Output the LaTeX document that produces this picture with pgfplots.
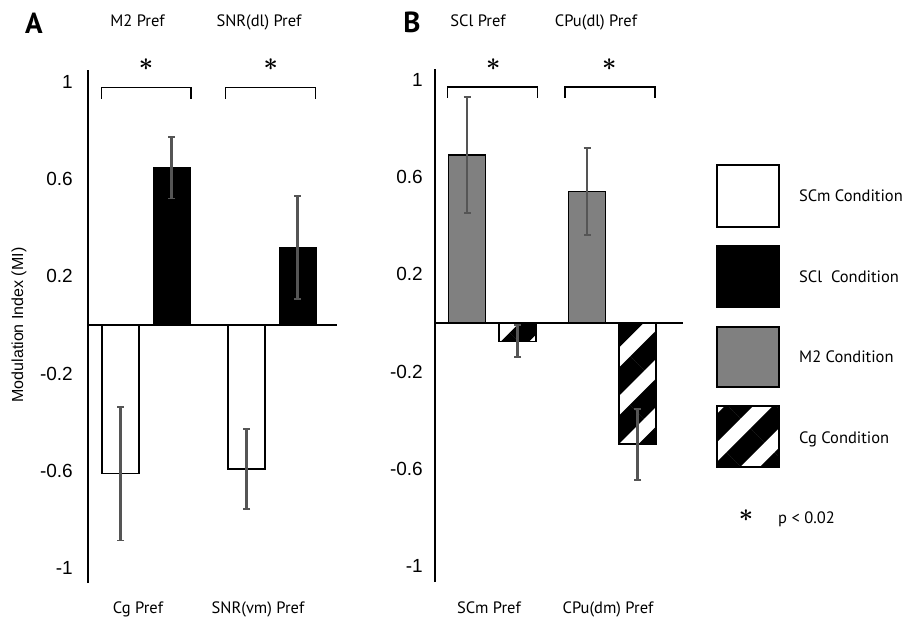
\documentclass[border=0pt]{standalone}
\usepackage{fontspec}
\setmainfont{PT Sans}
\newfontfamily\arialf{Liberation Sans}
\usepackage{pgfplots}
\pgfplotsset{compat=1.18}
\usetikzlibrary{patterns.meta}
\definecolor{barGray}{HTML}{808080}
\definecolor{errGray}{HTML}{555555}
\tikzset{hatch/.style={pattern={Lines[angle=45,distance=34pt,line width=20pt]}, pattern color=black}}
\pgfplotsset{
  panel/.style={
    scale only axis, width=249pt, height=513pt,
    axis x line=none, axis y line*=left,
    axis line style={line width=1.6pt,-},
    ytick={-1,-0.6,-0.2,0.2,0.6,1},
    yticklabels={-1,-0.6,-0.2,0.2,0.6,1},
    major tick length=0pt, ytick style={draw=none},
    yticklabel style={font=\arialf\fontsize{19}{19}\selectfont, anchor=east, inner sep=0pt},
    clip=false
  },
  ebar/.style={error bars/.cd, y dir=both, y explicit,
    error bar style={draw=errGray, line width=2.1pt},
    error mark options={rotate=90, draw=errGray, line width=1.8pt, mark size=3.5pt}}
}
\newcommand{\lab}{\fontsize{16.5}{18}\selectfont}
\newcommand{\sigast}{{\fontsize{23}{23}\selectfont\boldmath$\ast$}}
\begin{document}
\begin{tikzpicture}
\useasboundingbox (0,0) rectangle (904pt,616pt);
% ---------------- Panel A ----------------
\begin{axis}[panel, at={(88pt,33pt)}, anchor=south west,
  xmin=0, xmax=249, ymin=-1.062, ymax=1.049,
  yticklabel style={xshift=-15pt}]
\addplot[ybar, bar width=37, bar shift=0pt, fill=white, draw=black, line width=1.7pt, ebar]
  coordinates {(32.5,-0.612) +- (0,0.275) (158.5,-0.593) +- (0,0.164)};
\addplot[ybar, bar width=37, bar shift=0pt, fill=black, draw=black, line width=1pt, ebar]
  coordinates {(83.5,0.647) +- (0,0.127) (209.5,0.318) +- (0,0.212)};
\draw[line width=1.6pt] (axis cs:0,0) -- (axis cs:249,0);
\draw[line width=1.5pt] (axis cs:13.7,0.930) -- (axis cs:13.7,0.977) -- (axis cs:103,0.977) -- (axis cs:103,0.930);
\draw[line width=1.5pt] (axis cs:137.7,0.930) -- (axis cs:137.7,0.977) -- (axis cs:227.7,0.977) -- (axis cs:227.7,0.930);
\end{axis}
% ---------------- Panel B ----------------
\begin{axis}[panel, at={(435pt,34pt)}, anchor=south west, width=248pt,
  xmin=0, xmax=248, ymin=-1.064, ymax=1.043,
  yticklabel style={xshift=-12pt}]
\addplot[ybar, bar width=37, bar shift=0pt, fill=barGray, draw=black, line width=1.6pt, ebar]
  coordinates {(32,0.689) +- (0,0.238) (152,0.540) +- (0,0.178)};
\addplot[ybar, bar width=37, bar shift=0pt, hatch, draw=black, line width=1.4pt, ebar]
  coordinates {(82.5,-0.075) +- (0,0.065) (202.5,-0.498) +- (0,0.146)};
\draw[line width=1.6pt] (axis cs:0,0) -- (axis cs:248,0);
\draw[line width=1.5pt] (axis cs:12.7,0.924) -- (axis cs:12.7,0.970) -- (axis cs:102.3,0.970) -- (axis cs:102.3,0.924);
\draw[line width=1.5pt] (axis cs:130,0.924) -- (axis cs:130,0.970) -- (axis cs:220,0.970) -- (axis cs:220,0.924);
\end{axis}
% ---------------- Text ----------------
\node[anchor=base, inner sep=0pt, font=\fontsize{29}{30}\selectfont\bfseries] at (34pt,582.7pt) {A};
\node[anchor=base, inner sep=0pt, font=\fontsize{29}{30}\selectfont\bfseries] at (412pt,583pt) {B};
\foreach \x/\t in {137.5/M2 Pref, 259/SNR(dl) Pref, 478/SCl Pref, 596/CPu(dl) Pref}
  \node[anchor=base, inner sep=0pt, font=\lab] at (\x pt,589pt) {\t};
\foreach \x/\t in {138/Cg Pref, 258/SNR(vm) Pref, 489/SCm Pref, 608/CPu(dm) Pref}
  \node[anchor=base, inner sep=0pt, font=\lab] at (\x pt,3pt) {\t};
\foreach \x in {146,270.7,493.3,609.3}
  \node[inner sep=0pt] at (\x pt,551pt) {\sigast};
\node[rotate=90, inner sep=0pt, font=\arialf\fontsize{16}{16}\selectfont] at (19pt,291pt) {Modulation Index (MI)};
% ---------------- Legend ----------------
\draw[line width=1.5pt, fill=white] (717pt,389pt) rectangle (779pt,451pt);
\draw[line width=1.5pt, fill=black] (717pt,309pt) rectangle (779pt,370pt);
\draw[line width=1.5pt, fill=barGray] (717pt,229pt) rectangle (779pt,289pt);
\draw[line width=1.5pt, hatch] (717pt,149pt) rectangle (779pt,210pt);
\node[anchor=base west, inner sep=0pt, font=\lab] at (799pt,414pt) {SCm Condition};
\node[anchor=base west, inner sep=0pt, font=\lab] at (799pt,333pt) {SCl\ \ Condition};
\node[anchor=base west, inner sep=0pt, font=\lab] at (799pt,253pt) {M2 Condition};
\node[anchor=base west, inner sep=0pt, font=\lab] at (799pt,173pt) {Cg Condition};
\node[inner sep=0pt] at (746pt,100pt) {\sigast};
\node[anchor=base west, inner sep=0pt, font=\lab] at (778pt,93pt) {p < 0.02};
\end{tikzpicture}
\end{document}
